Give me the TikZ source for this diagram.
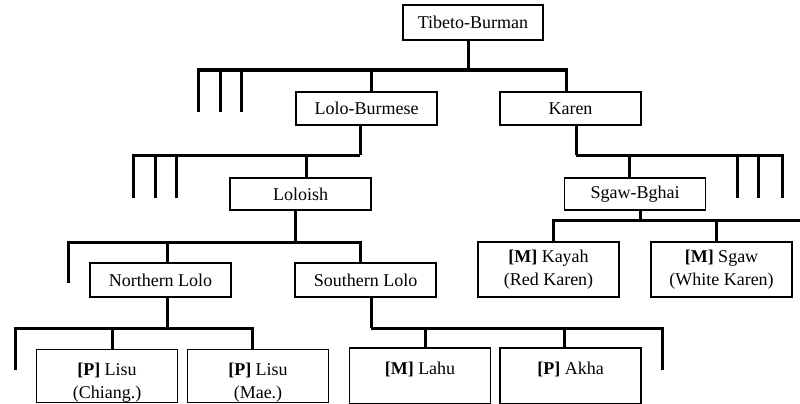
\documentclass[tikz,border=0pt]{standalone}
\usepackage{fontspec}
\setmainfont{Liberation Serif}
\newcommand{\lowline}{\rule{0pt}{26pt}}
\tikzset{
  lang/.style={draw, line width=1.2pt, minimum width=141pt, minimum height=33pt,
    inner sep=0pt, align=center, font=\fontsize{18}{23}\selectfont},
  leaf/.style={lang, minimum height=53pt},
  branch/.style={line width=3pt, line join=miter}
}
\begin{document}
\begin{tikzpicture}[x=1pt, y=-1pt]
        \useasboundingbox (0,0) rectangle (800,404);
        % 语言节点
        \node[lang, minimum width=140pt, minimum height=35pt] (tb) at (473,22.5) {Tibeto-Burman};
        \node[lang] (lb) at (366.5,108.5) {Lolo-Burmese};
        \node[lang] (karen) at (570.5,108.5) {Karen};
        \node[lang, minimum height=32pt] (loloish) at (300.5,194) {Loloish};
        \node[lang, minimum height=32pt] (sgawbghai) at (635,194) {Sgaw-Bghai};
        \node[lang, minimum height=34pt] (nlolo) at (160.5,280) {Northern Lolo};
        \node[lang, minimum height=34pt] (slolo) at (365.5,280) {Southern Lolo};
        \node[leaf, minimum height=55pt] (kayah) at (548.5,269.5) {\textbf{[M]} Kayah\\(Red Karen)};
        \node[leaf, minimum height=55pt] (sgaw) at (721.5,269.5) {\textbf{[M]} Sgaw\\(White Karen)};
        \node[leaf] (lisuc) at (107,376) {\lowline\textbf{[P]} Lisu\\(Chiang.)};
        \node[leaf] (lisum) at (258,376) {\lowline\textbf{[P]} Lisu\\(Mae.)};
        \node[leaf] (lahu) at (420,376) {\lowline\textbf{[M]} Lahu\\\strut};
        \node[leaf] (akha) at (570.5,376) {\lowline\textbf{[P]} Akha\\\strut};
        % 分支汇合点与断枝
        \coordinate (j1) at (468,70);
        \coordinate (j2) at (360,155);
        \coordinate (j3) at (576,155);
        \coordinate (j4) at (295,242);
        \coordinate (j5) at (640,220);
        \coordinate (j6) at (167,328);
        \coordinate (j7) at (371,328);
        \coordinate (s1) at (198,112);
        \coordinate (s2) at (220,112);
        \coordinate (s3) at (241,112);
        \coordinate (s4) at (133,198);
        \coordinate (s5) at (155,198);
        \coordinate (s6) at (176,198);
        \coordinate (s7) at (737,198);
        \coordinate (s8) at (758,198);
        \coordinate (s9) at (782,198);
        \coordinate (s10) at (68,283);
        \coordinate (s11) at (800,220);
        \coordinate (s12) at (15,370);
        \coordinate (s13) at (662,370);
        % Tibeto-Burman
        \draw[branch] ([xshift=-5pt]tb.south) -- (j1);
        \foreach \s in {s1,s2,s3} \draw[branch] (\s) |- (j1);
        \draw[branch] ([xshift=4.5pt]lb.north) |- (j1);
        \draw[branch] ([xshift=-4.5pt]karen.north) |- (j1);
        % Lolo-Burmese
        \draw[branch] ([xshift=-6.5pt]lb.south) -- (j2);
        \foreach \s in {s4,s5,s6} \draw[branch] (\s) |- (j2);
        \draw[branch] ([xshift=5.5pt]loloish.north) |- (j2);
        % Karen
        \draw[branch] ([xshift=5.5pt]karen.south) -- (j3);
        \foreach \s in {s7,s8,s9} \draw[branch] (\s) |- (j3);
        \draw[branch] ([xshift=-6pt]sgawbghai.north) |- (j3);
        % Loloish
        \draw[branch] ([xshift=-5.5pt]loloish.south) -- (j4);
        \draw[branch] (s10) |- (j4);
        \draw[branch] ([xshift=6.5pt]nlolo.north) |- (j4);
        \draw[branch] ([xshift=-5.5pt]slolo.north) |- (j4);
        % Sgaw-Bghai
        \draw[branch] ([xshift=5pt]sgawbghai.south) -- (j5);
        \draw[branch] ([xshift=4.5pt]kayah.north) |- (j5);
        \draw[branch] ([xshift=-5.5pt]sgaw.north) |- (j5);
        \draw[branch] (s11) -- (j5);
        % Northern Lolo
        \draw[branch] ([xshift=6.5pt]nlolo.south) -- (j6);
        \draw[branch] (s12) |- (j6);
        \draw[branch] ([xshift=5pt]lisuc.north) |- (j6);
        \draw[branch] ([xshift=-6pt]lisum.north) |- (j6);
        % Southern Lolo
        \draw[branch] ([xshift=5.5pt]slolo.south) -- (j7);
        \draw[branch] ([xshift=5pt]lahu.north) |- (j7);
        \draw[branch] ([xshift=-6.5pt]akha.north) |- (j7);
        \draw[branch] (s13) |- (j7);
    \end{tikzpicture}
\end{document}
